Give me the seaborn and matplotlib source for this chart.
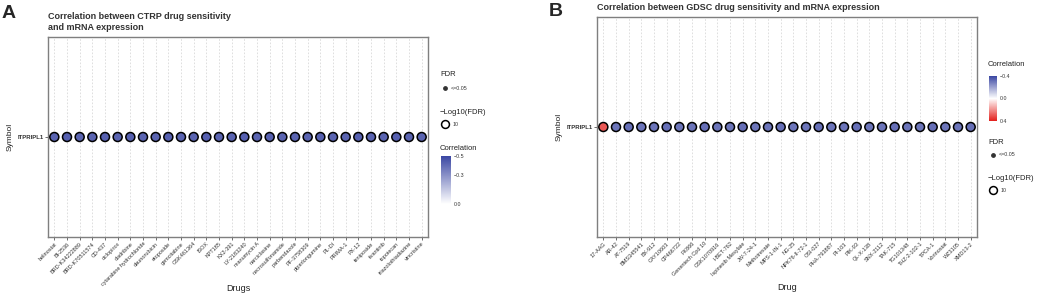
import numpy as np
import pandas as pd
import seaborn as sns
import matplotlib.pyplot as plt
from matplotlib.colors import LinearSegmentedColormap, Normalize
from matplotlib.cm import ScalarMappable

# ---- data ----
gene = "ITPRIPL1"

ctrp_drugs = ["belinostat", "BI-2536", "BRD-K34222889", "BRD-K70511574", "CD-437",
              "ciclopirox", "cladribine", "cytarabine hydrochloride", "daunorubicin",
              "etoposide", "gemcitabine", "GSK461364", "ISOX", "KPT185", "KX2-391",
              "LY-2183240", "manumycin A", "narciclasine", "necrosulfonamide",
              "parbendazole", "PF-3758309", "piperlongumine", "PL-DI", "PRIMA-1",
              "PX-12", "teniposide", "tivantinib", "topotecan", "triazolothiadiazine",
              "vincristine"]
ctrp_cor = [-0.42, -0.43, -0.42, -0.42, -0.43, -0.42, -0.43, -0.42, -0.42, -0.43,
            -0.42, -0.42, -0.43, -0.42, -0.42, -0.43, -0.42, -0.43, -0.42, -0.42,
            -0.42, -0.43, -0.42, -0.42, -0.43, -0.42, -0.42, -0.43, -0.42, -0.42]

gdsc_drugs = ["17-AAG", "AR-42", "AT-7519", "BMS345541", "BX-912", "CAY10603",
              "CP466722", "FK866", "Genentech Cpd 10", "GSK1070916", "I-BET-762",
              "Ispinesib Mesylate", "JW-7-24-1", "Methotrexate", "MPS-1-IN-1", "NG-25",
              "NPK76-II-72-1", "OSI-027", "PHA-793887", "PI-103", "PIK-93", "QL-X-138",
              "SNX-2112", "TAK-715", "TG101348", "THZ-2-102-1", "TPCA-1", "Vorinostat",
              "WZ3105", "XMD13-2"]
gdsc_cor = [0.30, -0.30, -0.31, -0.30, -0.30, -0.31, -0.30, -0.30, -0.31, -0.30,
            -0.30, -0.31, -0.30, -0.30, -0.31, -0.30, -0.30, -0.31, -0.30, -0.30,
            -0.31, -0.30, -0.30, -0.31, -0.30, -0.30, -0.31, -0.30, -0.30, -0.31]

# ---- style ----
sns.set_style("white")
plt.rcParams['font.family'] = ['Liberation Sans', 'DejaVu Sans']

W, H = 1045, 298
fig = plt.figure(figsize=(W / 100, H / 100), dpi=100)

blue = "#3b47a3"
red = "#e3201c"
cmap_a = LinearSegmentedColormap.from_list("ctrp", [blue, "white"])          # -0.5 -> 0
cmap_b = LinearSegmentedColormap.from_list("gdsc", [blue, "white", red])     # -0.4 -> 0.4


def px_axes(x0, y0, x1, y1):
    # axes box given in pixel coords (top-left origin)
    return fig.add_axes([x0 / W, 1 - y1 / H, (x1 - x0) / W, (y1 - y0) / H])


def dot_panel(ax, drugs, cor, cmap, norm, xlab, xlab_y):
    df = pd.DataFrame({"drug": drugs, "symbol": gene, "cor": cor})
    sns.scatterplot(data=df, x="drug", y="symbol", hue="cor", palette=cmap,
                    hue_norm=norm, s=42, edgecolor="black", linewidth=1.1,
                    legend=False, ax=ax, zorder=3)
    ax.set_xlim(-0.5, len(drugs) - 0.5)
    ax.set_ylim(-1, 1)
    ax.grid(axis="x", color="#d9d9d9", linestyle=(0, (2, 2)), linewidth=0.6)
    ax.grid(axis="y", visible=False)
    for s in ax.spines.values():
        s.set_color("#7f7f7f")
        s.set_linewidth(1.0)
    ax.tick_params(axis="both", length=2, width=0.6, color="#555555",
                   labelsize=4.0, labelcolor="#333333", pad=1, bottom=True, left=True)
    plt.setp(ax.get_xticklabels(), rotation=45, ha="right", rotation_mode="anchor")
    plt.setp(ax.get_yticklabels(), fontweight="bold", fontsize=4.3)
    ax.set_xlabel(xlab, fontsize=6.5, color="#222222")
    ax.xaxis.set_label_coords(0.5, xlab_y)
    ax.set_ylabel("Symbol", fontsize=6, color="#222222", labelpad=3)


# ---- panel A: CTRP ----
axA = px_axes(48, 37, 428, 237)
dot_panel(axA, ctrp_drugs, ctrp_cor, cmap_a, (-0.5, 0), "Drugs", -0.235)

# ---- panel B: GDSC ----
axB = px_axes(597, 17, 977, 237)
dot_panel(axB, gdsc_drugs, gdsc_cor, cmap_b, (-0.4, 0.4), "Drug", -0.21)

# ---- titles / panel letters ----
fig.text(2 / W, 1 - 5 / H, "A", fontsize=14, fontweight="bold", va="top", ha="left")
fig.text(549 / W, 1 - 3 / H, "B", fontsize=14, fontweight="bold", va="top", ha="left")
fig.text(48 / W, 1 - 12 / H, "Correlation between CTRP drug sensitivity\nand mRNA expression",
         fontsize=6.5, color="#333333", va="top", ha="left", linespacing=1.25,
         fontweight="bold")
fig.text(597 / W, 1 - 3 / H, "Correlation between GDSC drug sensitivity and mRNA expression",
         fontsize=6.5, color="#333333", va="top", ha="left", fontweight="bold")

# ---- hand made legends (overlay in pixel coords) ----
lg = fig.add_axes([0, 0, 1, 1], facecolor="none")
lg.set_xlim(0, W)
lg.set_ylim(H, 0)
lg.axis("off")


def size_legend(x, y_fdr, y_log):
    lg.text(x, y_fdr, "FDR", fontsize=5.5, va="center", color="#222222")
    lg.scatter([x + 5], [y_fdr + 13], s=6, color="#333333", zorder=3)
    lg.text(x + 11, y_fdr + 13, "<=0.05", fontsize=3.8, va="center", color="#333333")
    lg.text(x, y_log, "\u2212Log10(FDR)", fontsize=5.5, va="center", color="#222222")
    lg.scatter([x + 5], [y_log + 12], s=32, facecolor="white", edgecolor="black",
               linewidth=1.1, zorder=3)
    lg.text(x + 13, y_log + 12, "10", fontsize=3.8, va="center", color="#333333")


def color_legend(x, y, cmap, lo, hi, ticks, labels, y0, y1, w):
    lg.text(x, y, "Correlation", fontsize=5.5, va="center", color="#222222")
    cax = px_axes(x + 1, y0, x + 1 + w, y1)
    sm = ScalarMappable(norm=Normalize(lo, hi), cmap=cmap)
    cb = fig.colorbar(sm, cax=cax, ticks=ticks)
    cb.outline.set_visible(False)
    cax.invert_yaxis()
    cax.set_yticklabels(labels)
    cax.tick_params(labelsize=3.8, length=0, pad=2, labelcolor="#333333")


size_legend(440, 75, 112)
color_legend(440, 149, cmap_a, -0.5, 0, [-0.5, -0.3, 0.0],
             ["\u22120.5", "\u22120.3", "0.0"], 156, 204, 10)

color_legend(988, 65, cmap_b, -0.4, 0.4, [-0.4, 0.0, 0.4],
             ["\u22120.4", "0.0", "0.4"], 76, 121, 8)
size_legend(988, 142, 178)

plt.savefig("out.png", dpi=100)
